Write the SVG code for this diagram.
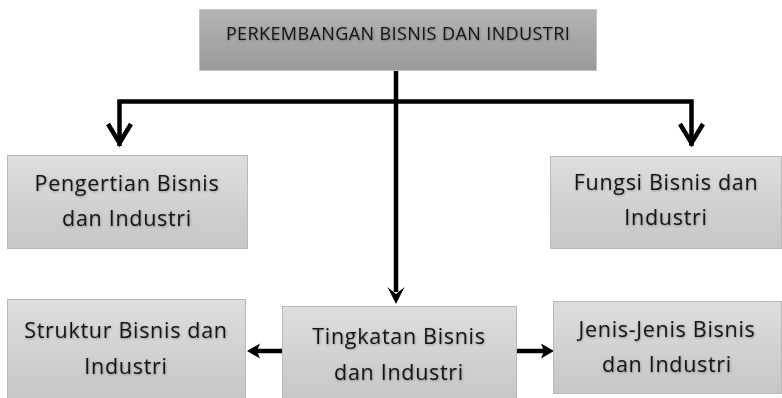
<svg xmlns="http://www.w3.org/2000/svg" width="782" height="398" viewBox="0 0 782 398">
  <defs>
    <linearGradient id="gTop" x1="0" y1="0" x2="0" y2="1">
      <stop offset="0" stop-color="#b4b4b4"/>
      <stop offset="1" stop-color="#9a9a9a"/>
    </linearGradient>
    <linearGradient id="gBox" x1="0" y1="0" x2="0" y2="1">
      <stop offset="0" stop-color="#dedede"/>
      <stop offset="1" stop-color="#c6c6c6"/>
    </linearGradient>
    <filter id="txtShadow" x="-10%" y="-30%" width="120%" height="160%">
      <feDropShadow dx="0.5" dy="0.8" stdDeviation="1" flood-color="#000" flood-opacity="0.35"/>
    </filter>
  </defs>
  <style>
    .box { fill: url(#gBox); stroke: #b9b9b9; stroke-width: 1; }
    .top { fill: url(#gTop); stroke: #c4c4c4; stroke-width: 1; }
    .lbl { font-family: "Open Sans", "Noto Sans", sans-serif; font-size: 21.5px; letter-spacing: 0.7px; fill: #161616; text-anchor: middle; filter: url(#txtShadow); }
    .ttl { font-family: "Open Sans", "Noto Sans", sans-serif; font-size: 18px; letter-spacing: 0.4px; fill: #161616; text-anchor: middle; filter: url(#txtShadow); }
    .ln { fill: none; stroke: #000; stroke-width: 4.5; }
    .chev { fill: none; stroke: #000; stroke-width: 4.5; stroke-linejoin: miter; }
    .head { fill: #000; stroke: none; }
  </style>
  <rect width="782" height="398" fill="#fff"/>

  <g id="connectors">
    <!-- trunk from title down to the middle box -->
    <line class="ln" x1="396" y1="71" x2="396" y2="292"/>
    <path class="head" d="M387.5,287 L396,294 L404.5,287 L396,304 Z"/>
    <!-- branch across to the two upper boxes -->
    <polyline class="ln" points="119.5,146 119.5,101.5 691.5,101.5 691.5,146"/>
    <polyline class="chev" points="108,124 119.5,143 131,124"/>
    <polyline class="chev" points="680,124 691.5,143 703,124"/>
    <!-- side arrows from the middle box -->
    <line class="ln" x1="282" y1="351" x2="256" y2="351"/>
    <path class="head" d="M247,351 L260,343.5 L257,351 L260,358.5 Z"/>
    <line class="ln" x1="517" y1="351" x2="544" y2="351"/>
    <path class="head" d="M554,351 L541,343.5 L544,351 L541,358.5 Z"/>
  </g>

  <g id="node-title">
    <rect class="top" x="199.5" y="9.5" width="397" height="61"/>
    <text class="ttl" x="398" y="40">PERKEMBANGAN BISNIS DAN INDUSTRI</text>
  </g>

  <g id="node-pengertian">
    <rect class="box" x="7.5" y="155.5" width="240" height="93"/>
    <text class="lbl" x="127" y="191">Pengertian Bisnis</text>
    <text class="lbl" x="127" y="226">dan Industri</text>
  </g>

  <g id="node-fungsi">
    <rect class="box" x="550.5" y="156.5" width="231" height="92"/>
    <text class="lbl" x="666" y="190">Fungsi Bisnis dan</text>
    <text class="lbl" x="666" y="225">Industri</text>
  </g>

  <g id="node-struktur">
    <rect class="box" x="7.5" y="299.5" width="238" height="102"/>
    <text class="lbl" x="126" y="338">Struktur Bisnis dan</text>
    <text class="lbl" x="126" y="374">Industri</text>
  </g>

  <g id="node-tingkatan">
    <rect class="box" x="282.5" y="306.5" width="234" height="95"/>
    <text class="lbl" x="399" y="344">Tingkatan Bisnis</text>
    <text class="lbl" x="399" y="380">dan Industri</text>
  </g>

  <g id="node-jenis">
    <rect class="box" x="553.5" y="301.5" width="228" height="92"/>
    <text class="lbl" x="667" y="337">Jenis-Jenis Bisnis</text>
    <text class="lbl" x="667" y="372">dan Industri</text>
  </g>
</svg>
